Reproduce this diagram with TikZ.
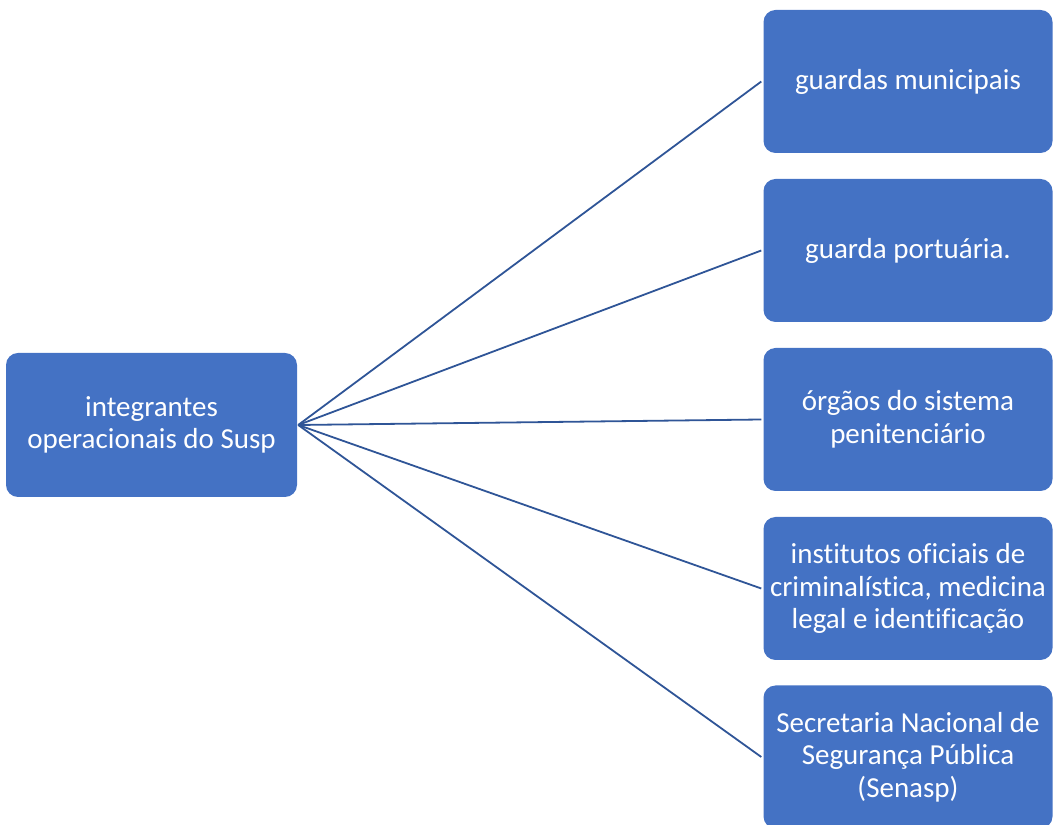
\documentclass[tikz,border=0pt]{standalone}
\usepackage{fontspec}
\setmainfont{Carlito}[Ligatures=NoCommon]
\usepackage{tikz}
\usetikzlibrary{positioning}
\definecolor{boxblue}{HTML}{4472C4}
\definecolor{lineblue}{HTML}{2F5597}
\tikzset{
    x=1pt, y=1pt, % one unit is one pixel of the reference
    item/.style={fill=boxblue, draw=none, rounded corners=12pt, text=white,
        minimum width=289pt, minimum height=143pt, align=center, inner sep=2pt,
        font=\fontsize{29}{32.5}\selectfont}, % sets the properties for each box
    link/.style={draw=lineblue, line width=1.8pt}, % the connectors
}
\begin{document}
\begin{tikzpicture}
    \useasboundingbox (0,0) rectangle (1053,825);
    \node[item, minimum width=291pt, minimum height=144pt] (susp) at (151.5,400) {integrantes\\operacionais do Susp};
    \node[item] (gm) at (908,743.5) {guardas municipais};
    \node[item] (gp) at (908,574.5) {guarda portuária.};
    \node[item] (osp) at (908,405.5) {órgãos do sistema\\penitenciário};
    \node[item] (ioc) at (908,236.5) {institutos oficiais de\\criminalística, medicina\\legal e identificação};
    \node[item] (sen) at (908,68) {Secretaria Nacional de\\Segurança Pública\\(Senasp)};
    \foreach \t in {gm, gp, osp, ioc, sen}
        \draw[link] ([xshift=1pt]susp.east) -- ([xshift=-2pt]\t.west);
\end{tikzpicture}
\end{document}
